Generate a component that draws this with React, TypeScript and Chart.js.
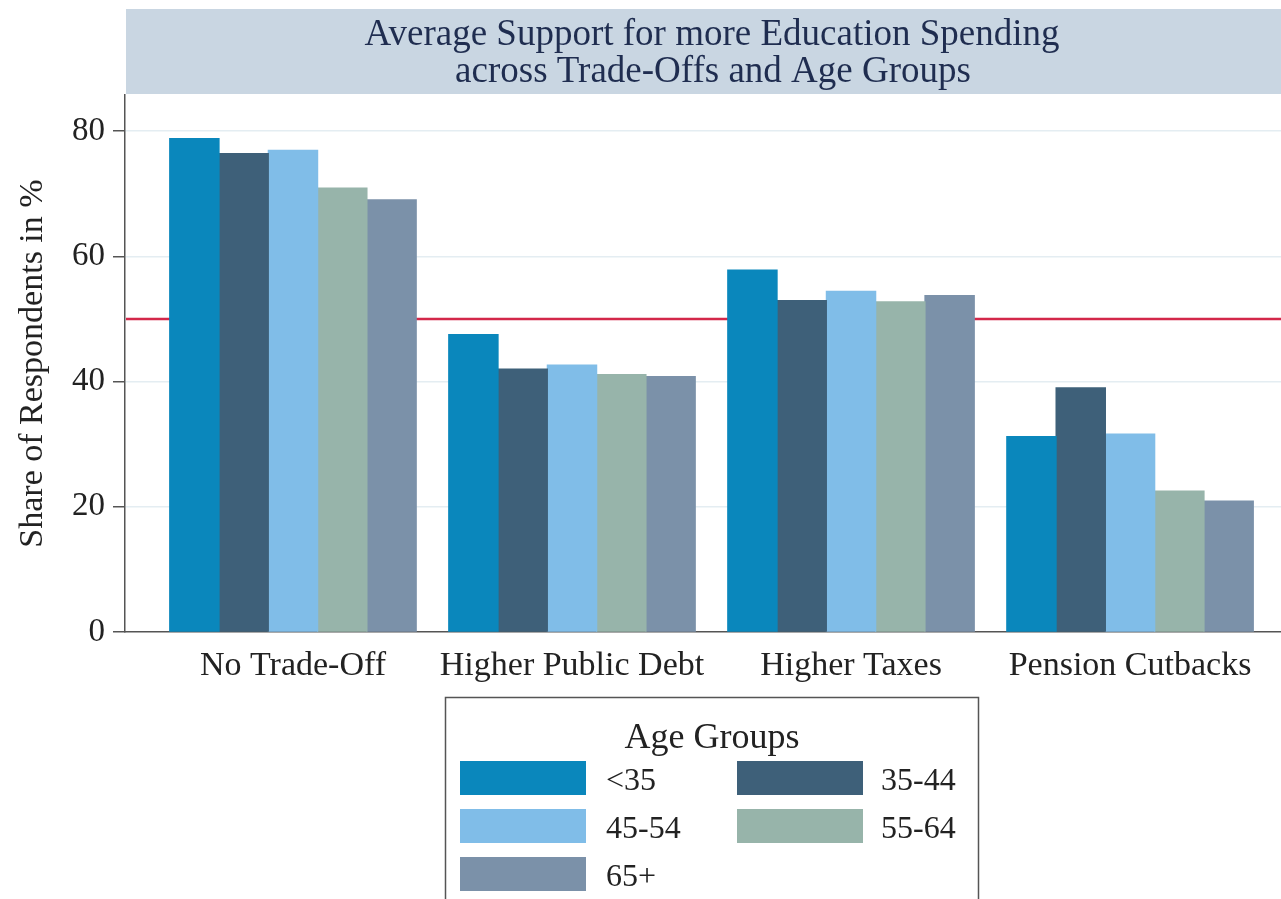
import React, { useEffect, useRef } from 'react';
import { Chart, registerables } from 'chart.js';

Chart.register(...registerables);

const categories = ['No Trade-Off', 'Higher Public Debt', 'Higher Taxes', 'Pension Cutbacks'];
const ageGroups = ['<35', '35-44', '45-54', '55-64', '65+'];
const under35 = [78.8, 47.5, 57.8, 31.2];
const age35to44 = [76.4, 42.0, 52.9, 39.0];
const age45to54 = [76.9, 42.6, 54.4, 31.6];
const age55to64 = [70.9, 41.1, 52.7, 22.5];
const age65plus = [69.0, 40.8, 53.7, 20.9];
const yTicks = [0, 20, 40, 60, 80];
const referenceLine = 50;
const titleLines = ['Average Support for more Education Spending', 'across Trade-Offs and Age Groups'];
const yTitle = 'Share of Respondents in %';
const legendTitle = 'Age Groups';
const colors = ['#0a87bc', '#3e6079', '#80bde8', '#97b4aa', '#7b91a9'];

const SERIF = "'Liberation Serif', 'Times New Roman', serif";

const seriesValues = [under35, age35to44, age45to54, age55to64, age65plus];

const backgroundPlugin = {
  id: 'bgTitle',
  beforeDraw(chart: any) {
    const { ctx, width, height } = chart;
    ctx.save();
    ctx.fillStyle = '#ffffff';
    ctx.fillRect(0, 0, width, height);
    ctx.fillStyle = '#c9d6e2';
    ctx.fillRect(126, 9, width - 126, 85);
    ctx.fillStyle = '#1f2d50';
    ctx.font = `37px ${SERIF}`;
    ctx.textAlign = 'center';
    ctx.textBaseline = 'alphabetic';
    ctx.fillText(titleLines[0], 712, 45);
    ctx.fillText(titleLines[1], 713, 82);
    ctx.restore();
  },
};

const refLinePlugin = {
  id: 'refLine',
  beforeDatasetsDraw(chart: any) {
    const { ctx, chartArea, scales } = chart;
    const y = scales.y.getPixelForValue(referenceLine);
    ctx.save();
    ctx.strokeStyle = '#d3274a';
    ctx.lineWidth = 2.5;
    ctx.beginPath();
    ctx.moveTo(chartArea.left + 1, y);
    ctx.lineTo(chartArea.right, y);
    ctx.stroke();
    ctx.restore();
  },
};

const legendPlugin = {
  id: 'boxLegend',
  afterDraw(chart: any) {
    const { ctx } = chart;
    const ds = chart.data.datasets;
    ctx.save();
    ctx.strokeStyle = '#555555';
    ctx.lineWidth = 1.5;
    ctx.beginPath();
    ctx.moveTo(445.5, 910);
    ctx.lineTo(445.5, 697.5);
    ctx.lineTo(978.5, 697.5);
    ctx.lineTo(978.5, 910);
    ctx.stroke();

    ctx.fillStyle = '#222222';
    ctx.font = `36px ${SERIF}`;
    ctx.textAlign = 'center';
    ctx.textBaseline = 'alphabetic';
    ctx.fillText(legendTitle, 712, 748);

    const colX = [460, 737];
    const labelX = [606, 881];
    const rowY = [761, 809, 857];
    ctx.font = `32px ${SERIF}`;
    ctx.textAlign = 'left';
    ds.forEach((d: any, i: number) => {
      const col = i % 2;
      const row = Math.floor(i / 2);
      ctx.fillStyle = d.backgroundColor;
      ctx.fillRect(colX[col], rowY[row], 126, 34);
      ctx.fillStyle = '#222222';
      ctx.fillText(d.label, labelX[col], rowY[row] + 29);
    });
    ctx.restore();
  },
};

export default function App() {
  const canvasRef = useRef<HTMLCanvasElement | null>(null);

  useEffect(() => {
    if (!canvasRef.current) return;
    const chart = new Chart(canvasRef.current, {
      type: 'bar',
      data: {
        datasets: ageGroups.map((label, i) => ({
          label,
          data: seriesValues[i].map((v, j) => ({ x: j, y: v })),
          backgroundColor: colors[i],
          borderWidth: 0,
          inflateAmount: 0.6,
          categoryPercentage: 0.8835,
          barPercentage: 1.0,
        })),
      },
      options: {
        responsive: false,
        animation: false,
        devicePixelRatio: 1,
        layout: { padding: { left: 0, right: 0, top: 95, bottom: 207 } },
        plugins: {
          legend: { display: false },
          title: { display: false },
          tooltip: { enabled: false },
        },
        scales: {
          x: {
            type: 'linear',
            offset: false,
            min: -0.602,
            max: 3.541,
            afterBuildTicks: (s: any) => {
              s.ticks = categories.map((_, i) => ({ value: i }));
            },
            afterFit: (s: any) => {
              s.height = 60;
            },
            grid: { display: false, drawTicks: false },
            border: { display: true, color: '#555555', width: 1.5 },
            ticks: {
              autoSkip: false,
              maxRotation: 0,
              minRotation: 0,
              padding: 14,
              color: '#222222',
              font: { family: SERIF, size: 34 },
              callback: (v: any) => categories[Math.round(Number(v))] ?? '',
            },
          },
          y: {
            type: 'linear',
            min: 0,
            max: 85.75,
            afterBuildTicks: (s: any) => {
              s.ticks = yTicks.map((v) => ({ value: v }));
            },
            afterFit: (s: any) => {
              s.width = 125;
            },
            grid: {
              color: (c: any) => (c.tick && c.tick.value === 0 ? 'rgba(0,0,0,0)' : '#e4edf2'),
              tickColor: '#555555',
              tickLength: 12,
              lineWidth: 1.5,
            },
            border: { display: true, color: '#555555', width: 1.5 },
            ticks: {
              padding: 8,
              color: '#222222',
              font: { family: SERIF, size: 33 },
            },
            title: {
              display: true,
              text: yTitle,
              color: '#222222',
              font: { family: SERIF, size: 34 },
              padding: { top: 13, bottom: 0 },
            },
          },
        },
      },
      plugins: [backgroundPlugin, refLinePlugin, legendPlugin],
    } as any);
    return () => chart.destroy();
  }, []);

  return (
    <div style={{ position: 'fixed', left: 0, top: 0, width: 1281, height: 899, background: '#fff' }}>
      <canvas ref={canvasRef} width={1281} height={899} style={{ display: 'block' }} />
    </div>
  );
}
